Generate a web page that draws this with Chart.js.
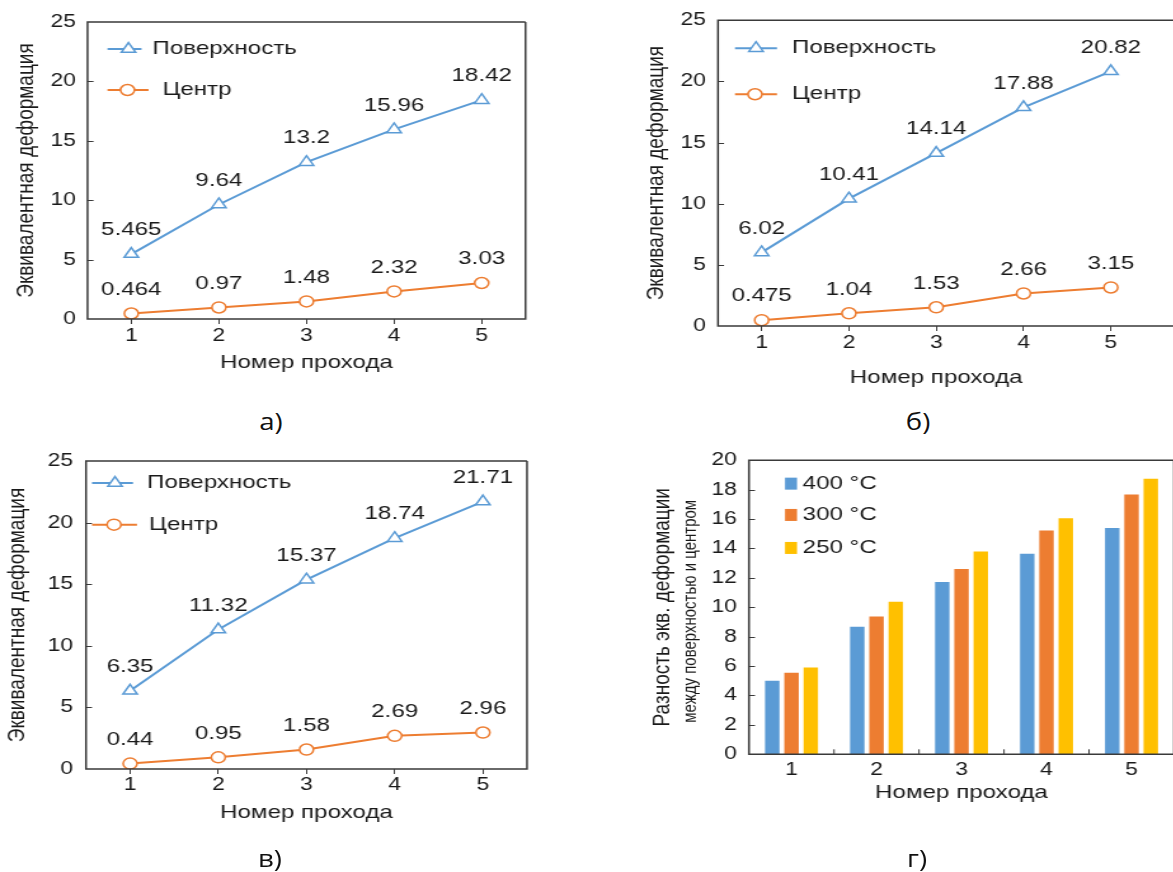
<!DOCTYPE html>
<html><head><meta charset="utf-8">
<script src="https://cdn.jsdelivr.net/npm/chart.js@4/dist/chart.umd.min.js"></script>
<style>
html,body{margin:0;padding:0;background:#fff;overflow:hidden;width:1173px;height:872px;position:relative;}
.cap{position:absolute;font-family:'Open Sans','Noto Sans',sans-serif;font-size:23px;color:#111;transform:translate(-50%,-50%) scaleX(1.2);white-space:nowrap;}
</style></head><body>
<div class="cap" style="left:271px;top:421px">а)</div>
<div class="cap" style="left:918px;top:421px">б)</div>
<div class="cap" style="left:270px;top:858px">в)</div>
<div class="cap" style="left:917px;top:858px">г)</div>
<script>
// ---------- data ----------
const passes = [1, 2, 3, 4, 5];
const passLabels = ['1', '2', '3', '4', '5'];
const seriesNames = ['Поверхность', 'Центр'];
const surfaceA = [5.465, 9.64, 13.2, 15.96, 18.42];
const centerA  = [0.464, 0.97, 1.48, 2.32, 3.03];
const surfaceB = [6.02, 10.41, 14.14, 17.88, 20.82];
const centerB  = [0.475, 1.04, 1.53, 2.66, 3.15];
const surfaceC = [6.35, 11.32, 15.37, 18.74, 21.71];
const centerC  = [0.44, 0.95, 1.58, 2.69, 2.96];
const tempNames = ['400 °C', '300 °C', '250 °C'];
const diff400 = [5.0, 8.67, 11.72, 13.64, 15.39];
const diff300 = [5.55, 9.37, 12.61, 15.22, 17.67];
const diff250 = [5.91, 10.37, 13.79, 16.05, 18.75];
const yTicksLine = [0, 5, 10, 15, 20, 25];
const yTicksBar = [0, 2, 4, 6, 8, 10, 12, 14, 16, 18, 20];
const xTitle = 'Номер прохода';
const yTitleLine = 'Эквивалентная деформация';
const yTitleBar1 = 'Разность экв. деформации';
const yTitleBar2 = 'между поверхностью и центром';

// ---------- style ----------
const S = 1.27;
const FONT = "'Liberation Sans', Arial, sans-serif";
const INK = '#1a1a1a';
const FRAME = '#3a3a3a';
const BLUE = '#5B9BD5', ORANGE = '#ED7D31', YELLOW = '#FFC000';
Chart.defaults.font.family = FONT;
Chart.defaults.color = INK;

function mkCanvas(g) {
  const c = document.createElement('canvas');
  const cw = Math.round(g.W / S);
  c.width = cw; c.height = g.H;
  c.style.cssText = `position:absolute;left:${g.L}px;top:${g.T}px;width:${cw}px;height:${g.H}px;transform:scaleX(${S});transform-origin:0 0;`;
  document.body.insertBefore(c, document.body.firstChild);
  return { c, cw };
}

const frame = {
  id: 'frame',
  afterDraw(chart, args, o) {
    const { ctx, chartArea: a } = chart;
    const y = chart.scales.y, x = chart.scales.x;
    ctx.save();
    ctx.strokeStyle = FRAME;
    ctx.lineWidth = 1;
    ctx.beginPath();
    y.ticks.forEach(t => {
      if (t.value > y.min && t.value < y.max) {
        const py = Math.round(y.getPixelForValue(t.value)) + 0.5;
        ctx.moveTo(a.left, py); ctx.lineTo(a.left + o.yTick, py);
      }
    });
    if (o.xBoundaries) {
      const n = chart.data.labels.length;
      for (let i = 0; i < n - 1; i++) {
        const px = (x.getPixelForValue(i) + x.getPixelForValue(i + 1)) / 2;
        ctx.moveTo(px, a.bottom); ctx.lineTo(px, a.bottom - o.xTick);
      }
    }
    ctx.stroke();
    ctx.lineWidth = 1.5;
    ctx.beginPath();
    const R = o.open ? chart.width : a.right;
    ctx.moveTo(R, a.top); ctx.lineTo(a.left, a.top); ctx.lineTo(a.left, a.bottom); ctx.lineTo(R, a.bottom);
    if (!o.open) ctx.lineTo(R, a.top);
    ctx.stroke();
    ctx.restore();
  }
};

const valueLabels = {
  id: 'valueLabels',
  afterDatasetsDraw(chart, args, o) {
    const ctx = chart.ctx;
    ctx.save();
    ctx.font = `${o.size}px ${FONT}`;
    ctx.fillStyle = INK;
    ctx.textAlign = 'center';
    ctx.textBaseline = 'middle';
    chart.data.datasets.forEach((ds, i) => {
      chart.getDatasetMeta(i).data.forEach((pt, j) => {
        ctx.fillText(String(ds.data[j].y), pt.x, pt.y - o.offset);
      });
    });
    ctx.restore();
  }
};

const customLegend = {
  id: 'customLegend',
  afterDraw(chart, args, o) {
    const { ctx, chartArea: a } = chart;
    ctx.save();
    ctx.font = `${o.size}px ${FONT}`;
    ctx.textBaseline = 'middle';
    ctx.textAlign = 'left';
    o.rows.forEach((r, i) => {
      const ds = chart.data.datasets[i];
      const y = a.top + r.y;
      if (r.box) {
        ctx.fillStyle = ds.backgroundColor;
        ctx.fillRect(a.left + r.x0 / S, y - r.box / 2, r.box / S, r.box);
      } else {
        ctx.strokeStyle = ds.borderColor;
        ctx.lineWidth = ds.borderWidth;
        ctx.beginPath();
        ctx.moveTo(a.left + r.x0 / S, y); ctx.lineTo(a.left + r.x1 / S, y);
        ctx.stroke();
        ctx.fillStyle = '#fff';
        ctx.strokeStyle = ds.pointBorderColor;
        ctx.lineWidth = ds.pointBorderWidth;
        Chart.helpers.drawPoint(ctx, { pointStyle: ds.pointStyle, radius: ds.pointRadius, borderWidth: ds.pointBorderWidth, rotation: 0 }, a.left + r.xm / S, y);
      }
      ctx.fillStyle = INK;
      ctx.fillText(ds.label, a.left + r.xt / S, y);
    });
    ctx.restore();
  }
};

const subTitle = {
  id: 'subTitle',
  afterDraw(chart, args, o) {
    const ctx = chart.ctx, a = chart.chartArea;
    ctx.save();
    ctx.font = `${o.size}px ${FONT}`;
    ctx.fillStyle = INK;
    ctx.textAlign = 'center';
    ctx.textBaseline = 'middle';
    ctx.translate(o.x, (a.top + a.bottom) / 2 + o.dy);
    ctx.rotate(-Math.PI / 2);
    ctx.fillText(o.text, 0, 0);
    ctx.restore();
  }
};

function lineChart(g, surf, cent, rows) {
  const { c, cw } = mkCanvas(g);
  const tickSize = 18, titleSize = 19, lh = titleSize * 1.2, tlh = tickSize * 1.2;
  const plotL = (g.pl - g.L) / S, plotR = (g.pr - g.L) / S;
  const xh = (g.xTitleY - g.pb) + lh / 2;
  const xTickPad = g.xLabelY - g.pb - 5 - tlh / 2;
  const yPad = (g.pl - g.yLabelRight) / S;
  const yTitlePad = (g.yTitleX - g.L) / S - lh / 2;
  new Chart(c, {
    type: 'line',
    data: {
      datasets: [
        { label: seriesNames[0], data: passes.map((p, i) => ({ x: p, y: surf[i] })), borderColor: BLUE, borderWidth: 2,
          pointStyle: 'triangle', pointRadius: 6.5, pointBorderWidth: 1.5, pointBackgroundColor: '#fff', pointBorderColor: BLUE },
        { label: seriesNames[1], data: passes.map((p, i) => ({ x: p, y: cent[i] })), borderColor: ORANGE, borderWidth: 2,
          pointStyle: 'circle', pointRadius: 5.5, pointBorderWidth: 1.5, pointBackgroundColor: '#fff', pointBorderColor: ORANGE }
      ]
    },
    options: {
      responsive: false, animation: false, devicePixelRatio: 1,
      layout: { padding: { left: 0, top: g.pt - g.T, right: cw - plotR, bottom: g.H - (g.pb - g.T) - xh } },
      scales: {
        x: {
          type: 'linear', min: 0.5, max: g.xmax,
          afterBuildTicks: s => { s.ticks = passes.map(v => ({ value: v })); },
          afterFit: s => { s.height = xh; },
          grid: { display: true, drawOnChartArea: false, drawTicks: true, tickLength: 5, color: FRAME, lineWidth: 1 },
          border: { display: false },
          ticks: { padding: xTickPad, font: { size: tickSize }, color: INK, maxRotation: 0, autoSkip: false },
          title: { display: true, text: xTitle, font: { size: titleSize }, color: INK, padding: { top: 0, bottom: 0 } }
        },
        y: {
          min: 0, max: 25,
          afterBuildTicks: s => { s.ticks = yTicksLine.map(v => ({ value: v })); },
          afterFit: s => { s.width = plotL; },
          grid: { display: false, drawTicks: false },
          border: { display: false },
          ticks: { padding: yPad, font: { size: tickSize }, color: INK },
          title: { display: true, text: yTitleLine, font: { size: titleSize }, color: INK, padding: { top: yTitlePad, bottom: 0 } }
        }
      },
      plugins: {
        legend: { display: false }, tooltip: { enabled: false },
        frame: { yTick: 6 / S, open: !!g.open },
        valueLabels: { offset: 24, size: 19 },
        customLegend: { rows, size: 19 }
      }
    },
    plugins: [frame, valueLabels, customLegend]
  });
}

lineChart({ L: 0, T: 0, W: 545, H: 400, pl: 87.5, pr: 525.5, pt: 22, pb: 319, xmax: 5.5,
  xLabelY: 336, xTitleY: 363, yTitleX: 27, yLabelRight: 76 }, surfaceA, centerA,
  [{ x0: 20, x1: 54, xm: 41, xt: 65, y: 27 }, { x0: 20, x1: 61, xm: 40, xt: 75, y: 68 }]);

lineChart({ L: 630, T: 0, W: 560, H: 400, pl: 718, pr: 1154.5, pt: 20, pb: 326, xmax: 5.5, open: true,
  xLabelY: 343, xTitleY: 378, yTitleX: 656, yLabelRight: 706 }, surfaceB, centerB,
  [{ x0: 17, x1: 59, xm: 38, xt: 74, y: 28 }, { x0: 17, x1: 59, xm: 37, xt: 74, y: 74 }]);

lineChart({ L: 0, T: 440, W: 545, H: 420, pl: 86, pr: 527, pt: 460.7, pb: 769, xmax: 5.5,
  xLabelY: 785, xTitleY: 813, yTitleX: 18, yLabelRight: 73 }, surfaceC, centerC,
  [{ x0: 6, x1: 47, xm: 29, xt: 61, y: 22 }, { x0: 6, x1: 51, xm: 28, xt: 63, y: 63.6 }]);

// ---------- bar chart (г) ----------
(function () {
  const g = { L: 640, T: 440, W: 540, H: 420, pl: 749, pr: 1174, pt: 458.3, pb: 754.3,
    xLabelY: 770, xTitleY: 793, yTitleX: 662, yTitle2X: 690, yLabelRight: 737 };
  const { c, cw } = mkCanvas(g);
  const tickSize = 18, titleSize = 19, lh = titleSize * 1.2, tlh = tickSize * 1.2;
  const plotL = (g.pl - g.L) / S, plotR = (g.pr - g.L) / S;
  const xh = (g.xTitleY - g.pb) + lh / 2;
  const xTickPad = g.xLabelY - g.pb - tlh / 2;
  const yPad = (g.pl - g.yLabelRight) / S;
  const yTitlePad = (g.yTitleX - g.L) / S - lh / 2;
  const dsBase = { categoryPercentage: 0.68, barPercentage: 0.75, borderWidth: 0 };
  new Chart(c, {
    type: 'bar',
    data: {
      labels: passLabels,
      datasets: [
        Object.assign({ label: tempNames[0], data: diff400, backgroundColor: BLUE }, dsBase),
        Object.assign({ label: tempNames[1], data: diff300, backgroundColor: ORANGE }, dsBase),
        Object.assign({ label: tempNames[2], data: diff250, backgroundColor: YELLOW }, dsBase)
      ]
    },
    options: {
      responsive: false, animation: false, devicePixelRatio: 1,
      layout: { padding: { left: 0, top: g.pt - g.T, right: cw - plotR, bottom: g.H - (g.pb - g.T) - xh } },
      scales: {
        x: {
          afterFit: s => { s.height = xh; },
          grid: { display: false, drawTicks: false },
          border: { display: false },
          ticks: { padding: xTickPad, font: { size: tickSize }, color: INK, maxRotation: 0 },
          title: { display: true, text: xTitle, font: { size: titleSize }, color: INK, padding: { top: 0, bottom: 0 } }
        },
        y: {
          min: 0, max: 20,
          afterBuildTicks: s => { s.ticks = yTicksBar.map(v => ({ value: v })); },
          afterFit: s => { s.width = plotL; },
          grid: { display: false, drawTicks: false },
          border: { display: false },
          ticks: { padding: yPad, font: { size: tickSize }, color: INK },
          title: { display: true, text: yTitleBar1, font: { size: titleSize }, color: INK, padding: { top: yTitlePad, bottom: 0 } }
        }
      },
      plugins: {
        legend: { display: false }, tooltip: { enabled: false },
        frame: { yTick: 6 / S, xBoundaries: true, xTick: 5 },
        customLegend: { size: 19, rows: [
          { box: 12, x0: 36, xt: 53.7, y: 23.4 },
          { box: 12, x0: 36, xt: 53.7, y: 54.7 },
          { box: 12, x0: 36, xt: 53.7, y: 87.7 }
        ] },
        subTitle: { text: yTitleBar2, size: 15, x: (g.yTitle2X - g.L) / S, dy: 4 }
      }
    },
    plugins: [frame, customLegend, subTitle]
  });
})();
</script>
</body></html>
